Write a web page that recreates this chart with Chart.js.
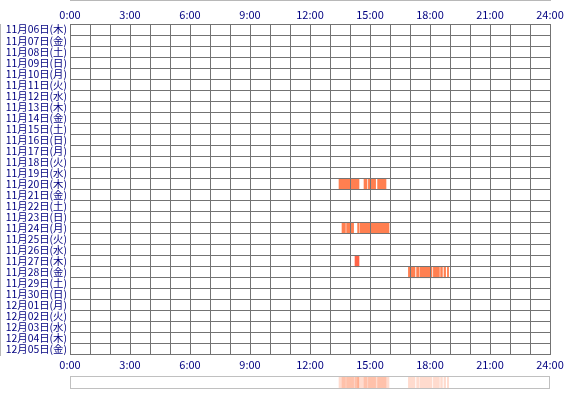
<!DOCTYPE html>
<html>
<head>
<meta charset="utf-8">
<script src="https://cdn.jsdelivr.net/npm/chart.js@4/dist/chart.umd.min.js"></script>
<style>
  html, body { margin: 0; padding: 0; background: #fff; }
  #wrap { position: relative; width: 570px; height: 400px; }
  #main { position: absolute; left: 0; top: 0; }
  #strip { position: absolute; left: 0; top: 370px; }
</style>
</head>
<body>
<div id="wrap">
  <canvas id="main" width="570" height="400"></canvas>
  <canvas id="strip" width="570" height="26"></canvas>
</div>
<script>
// ---- data ----
const days = [
  '11月06日(木)', '11月07日(金)', '11月08日(土)', '11月09日(日)', '11月10日(月)',
  '11月11日(火)', '11月12日(水)', '11月13日(木)', '11月14日(金)', '11月15日(土)',
  '11月16日(日)', '11月17日(月)', '11月18日(火)', '11月19日(水)', '11月20日(木)',
  '11月21日(金)', '11月22日(土)', '11月23日(日)', '11月24日(月)', '11月25日(火)',
  '11月26日(水)', '11月27日(木)', '11月28日(金)', '11月29日(土)', '11月30日(日)',
  '12月01日(月)', '12月02日(火)', '12月03日(水)', '12月04日(木)', '12月05日(金)'
];
// each session: day index, start hour, end hour
const sessionDay   = [14, 14, 14, 14, 18, 18, 18, 18, 21, 22, 22, 22, 22, 22, 22, 22];
const sessionStart = [13.45, 14.70, 14.92, 15.38, 13.60, 13.83, 14.38, 14.50, 14.25, 16.92, 17.33, 17.50, 18.17, 18.53, 18.70, 18.87];
const sessionEnd   = [14.45, 14.85, 15.28, 15.80, 13.77, 14.18, 14.45, 15.95, 14.45, 17.25, 17.45, 18.10, 18.47, 18.62, 18.78, 18.93];
const hourTicks = [0, 3, 6, 9, 12, 15, 18, 21, 24];

// ---- build ----
const sessions = sessionDay.map((d, i) => ({ y: days[d], x: [sessionStart[i], sessionEnd[i]] }));
const stripData = sessionDay.map((d, i) => ({ y: 'all', x: [sessionStart[i], sessionEnd[i]] }));

const FAMILY = "'Noto Sans CJK JP', 'Noto Sans', sans-serif";
const XFONT = { family: FAMILY, size: 11 };
const YFONT = { family: FAMILY, size: 10.4 };
const NAVY = '#000080';
const GRID = '#737373';
const tickLabel = v => hourTicks.includes(v) ? v + ':00' : '';

new Chart(document.getElementById('main'), {
  type: 'bar',
  data: {
    labels: days,
    datasets: [{
      data: sessions,
      backgroundColor: ctx => (ctx.raw && ctx.raw.y === days[21]) ? '#FF6347' : '#FF7F50',
      borderWidth: 0,
      borderSkipped: false,
      barPercentage: 1,
      categoryPercentage: 1
    }]
  },
  options: {
    indexAxis: 'y',
    responsive: false,
    animation: false,
    devicePixelRatio: 1,
    layout: { padding: { left: 0, right: 20, top: 0, bottom: 0 } },
    plugins: { legend: { display: false }, tooltip: { enabled: false } },
    scales: {
      x: {
        type: 'linear', position: 'bottom', min: 0, max: 24,
        ticks: { stepSize: 1, autoSkip: false, maxRotation: 0, color: NAVY, font: XFONT, padding: 3, callback: tickLabel },
        grid: { color: GRID, drawTicks: false, z: 1 },
        border: { color: GRID },
        afterFit: s => { s.height = 45; }
      },
      x2: {
        type: 'linear', position: 'top', min: 0, max: 24,
        ticks: { stepSize: 1, autoSkip: false, maxRotation: 0, color: NAVY, font: XFONT, padding: 3, callback: tickLabel },
        grid: { display: false, drawTicks: false },
        border: { color: GRID },
        afterFit: s => { s.height = 24; }
      },
      y: {
        type: 'category', offset: true,
        ticks: { color: NAVY, font: YFONT, padding: 3, autoSkip: false },
        grid: { color: GRID, offset: true, drawTicks: false, z: 1 },
        border: { color: GRID },
        afterFit: s => { s.width = 70; }
      }
    }
  }
});

const frame = {
  id: 'frame',
  afterDraw(chart) {
    const a = chart.chartArea, c = chart.ctx;
    c.save();
    c.strokeStyle = '#C0C0C0';
    c.lineWidth = 1;
    c.strokeRect(a.left + 0.5, a.top + 0.5, a.right - a.left - 1, a.bottom - a.top - 1);
    c.restore();
  }
};

new Chart(document.getElementById('strip'), {
  type: 'bar',
  data: {
    labels: ['all'],
    datasets: [{
      data: stripData,
      backgroundColor: 'rgba(255,127,80,0.28)',
      borderWidth: 0,
      borderSkipped: false,
      barPercentage: 1,
      categoryPercentage: 1
    }]
  },
  options: {
    indexAxis: 'y',
    responsive: false,
    animation: false,
    devicePixelRatio: 1,
    layout: { padding: { left: 70, right: 20, top: 6, bottom: 7 } },
    plugins: { legend: { display: false }, tooltip: { enabled: false } },
    scales: {
      x: { type: 'linear', min: 0, max: 24, display: false },
      y: { type: 'category', display: false }
    }
  },
  plugins: [frame]
});
</script>
</body>
</html>
